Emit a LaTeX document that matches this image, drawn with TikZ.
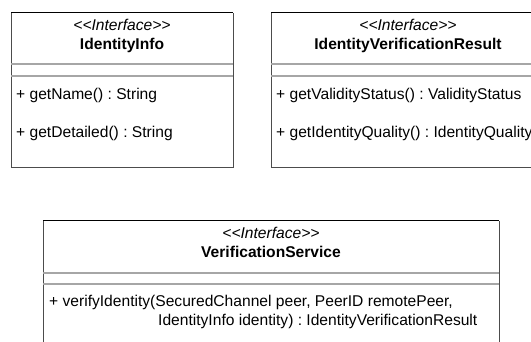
\documentclass[tikz,border=0pt]{standalone}
\usepackage{fontspec}
\setmainfont{Liberation Sans}
\frenchspacing
\newcommand\stereotxt{\textit{<\kern0pt<Interface>\kern0pt>}}
\begin{document}
\begin{tikzpicture}[x=1pt,y=-1pt,
  frame/.style={draw=black!70,line width=1pt},
  topedge/.style={draw=black,line width=1pt},
  sep/.style={draw=black!35,line width=1.6pt},
  txt/.style={inner sep=0pt,font=\fontsize{15.6}{19}\selectfont\frenchspacing},
  stereo/.style={txt,anchor=base},
  cname/.style={txt,anchor=base,font=\fontsize{15.6}{19}\selectfont\bfseries},
  member/.style={txt,anchor=base west}]
\useasboundingbox (0,0) rectangle (531,342);
\clip (0,0) rectangle (531,342);
% Box 1: IdentityInfo
\draw[frame] (11,13) -- (11,168) -- (233,168) -- (233,13);
\draw[topedge] (11,13) -- (233,13);
\draw[sep] (11,64) -- (233,64);
\draw[sep] (11,76) -- (233,76);
\node[stereo] (s1) at (122,31) {\stereotxt};
\node[cname] (n1) at (122,50) {IdentityInfo};
\node[member] (m11) at (16,100) {+ getName() : String};
\node[member] (m12) at (16,138) {+ getDetailed() : String};
% Box 2: IdentityVerificationResult
\draw[frame] (271,13) -- (271,168) -- (560,168);
\draw[topedge] (271,13) -- (560,13);
\draw[sep] (271,64) -- (560,64);
\draw[sep] (271,76) -- (560,76);
\node[stereo] (s2) at (408,31) {\stereotxt};
\node[cname] (n2) at (408,50) {IdentityVerificationResult};
\node[member] (m21) at (276,100) {+ getValidityStatus() : ValidityStatus};
\node[member] (m22) at (276,138) {+ getIdentityQuality() : IdentityQuality};
% Box 3: VerificationService
\draw[frame] (43,360) -- (43,221) (499,221) -- (499,360);
\draw[topedge] (43,221) -- (499,221);
\draw[sep] (43,273) -- (499,273);
\draw[sep] (43,284) -- (499,284);
\node[stereo] (s3) at (271,239) {\stereotxt};
\node[cname] (n3) at (271,258) {VerificationService};
\node[member] (m31) at (49,307) {+ verifyIdentity(SecuredChannel peer, PeerID remotePeer,};
\node[member] (m32) at (158,326) {IdentityInfo identity) : IdentityVerificationResult};
\end{tikzpicture}
\end{document}
